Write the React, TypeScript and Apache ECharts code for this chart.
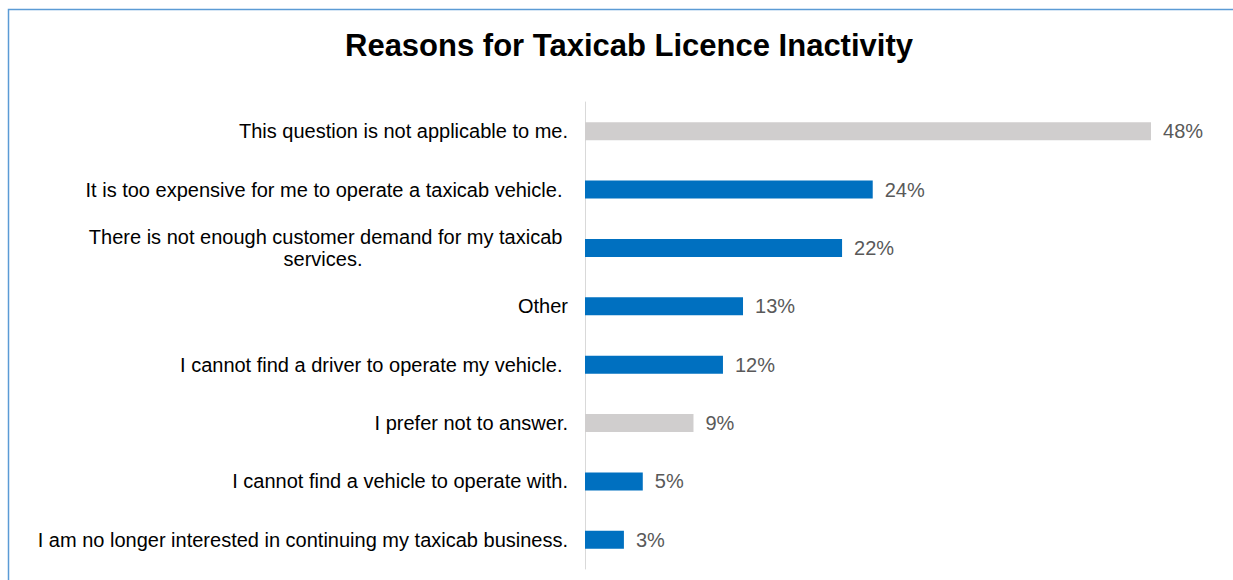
import React, { useEffect, useRef } from "react";
import * as echarts from "echarts";

const titleText = "Reasons for Taxicab Licence Inactivity";

const categories: string[] = [
  "This question is not applicable to me.",
  "It is too expensive for me to operate a taxicab vehicle. ",
  "There is not enough customer demand for my taxicab \nservices.",
  "Other",
  "I cannot find a driver to operate my vehicle. ",
  "I prefer not to answer.",
  "I cannot find a vehicle to operate with.",
  "I am no longer interested in continuing my taxicab business.",
];

const values: number[] = [48.0, 24.4, 21.8, 13.4, 11.7, 9.2, 4.9, 3.3];

const neutralCategories: string[] = [
  "This question is not applicable to me.",
  "I prefer not to answer.",
];

const FONT = "'Liberation Sans', Arial, Helvetica, sans-serif";

export default function App() {
  const ref = useRef<HTMLDivElement>(null);

  useEffect(() => {
    if (!ref.current) return;
    const chart = echarts.init(ref.current, undefined, { renderer: "svg" });
    chart.setOption({
      animation: false,
      backgroundColor: "#ffffff",
      title: {
        text: titleText,
        left: 340,
        top: 25,
        textStyle: {
          fontFamily: FONT,
          fontSize: 31,
          fontWeight: "bold",
          color: "#000000",
        },
      },
      graphic: [
        {
          type: "rect",
          shape: { x: 8.5, y: 9.5, width: 1400, height: 800 },
          style: { fill: "none", stroke: "#5B9BD5", lineWidth: 1.5 },
          silent: true,
        },
      ],
      grid: { left: 585, right: 58.4, top: 102, bottom: 11, containLabel: false },
      xAxis: {
        type: "value",
        min: 0,
        max: 50,
        show: false,
        splitLine: { show: false },
      },
      yAxis: {
        type: "category",
        inverse: true,
        data: categories,
        axisLine: { show: true, lineStyle: { color: "#D9D9D9", width: 1 } },
        axisTick: { show: false },
        axisLabel: {
          margin: 17,
          fontFamily: FONT,
          fontSize: 20,
          color: "#000000",
          lineHeight: 22,
          formatter: (v: string) => {
            const parts = v.split("\n");
            if (parts.length === 1) return v;
            return `{a|${parts[0]}}\n{b|${parts[1]}}`;
          },
          rich: {
            a: { fontFamily: FONT, fontSize: 20, color: "#000000", lineHeight: 22 },
            b: {
              fontFamily: FONT,
              fontSize: 20,
              color: "#000000",
              lineHeight: 22,
              width: 490,
              align: "center",
            },
          },
        },
      },
      series: [
        {
          type: "bar",
          data: values,
          barWidth: 18,
          itemStyle: {
            color: (p: any) =>
              neutralCategories.includes(categories[p.dataIndex]) ? "#D0CECE" : "#0070C0",
          },
          label: {
            show: true,
            position: "right",
            distance: 12,
            fontFamily: FONT,
            fontSize: 20,
            color: "#595959",
            formatter: (p: any) => `${Math.round(p.value)}%`,
          },
        },
      ],
    });
    return () => chart.dispose();
  }, []);

  return (
    <div
      ref={ref}
      style={{ position: "absolute", left: 0, top: 0, width: 1233, height: 580 }}
    />
  );
}
